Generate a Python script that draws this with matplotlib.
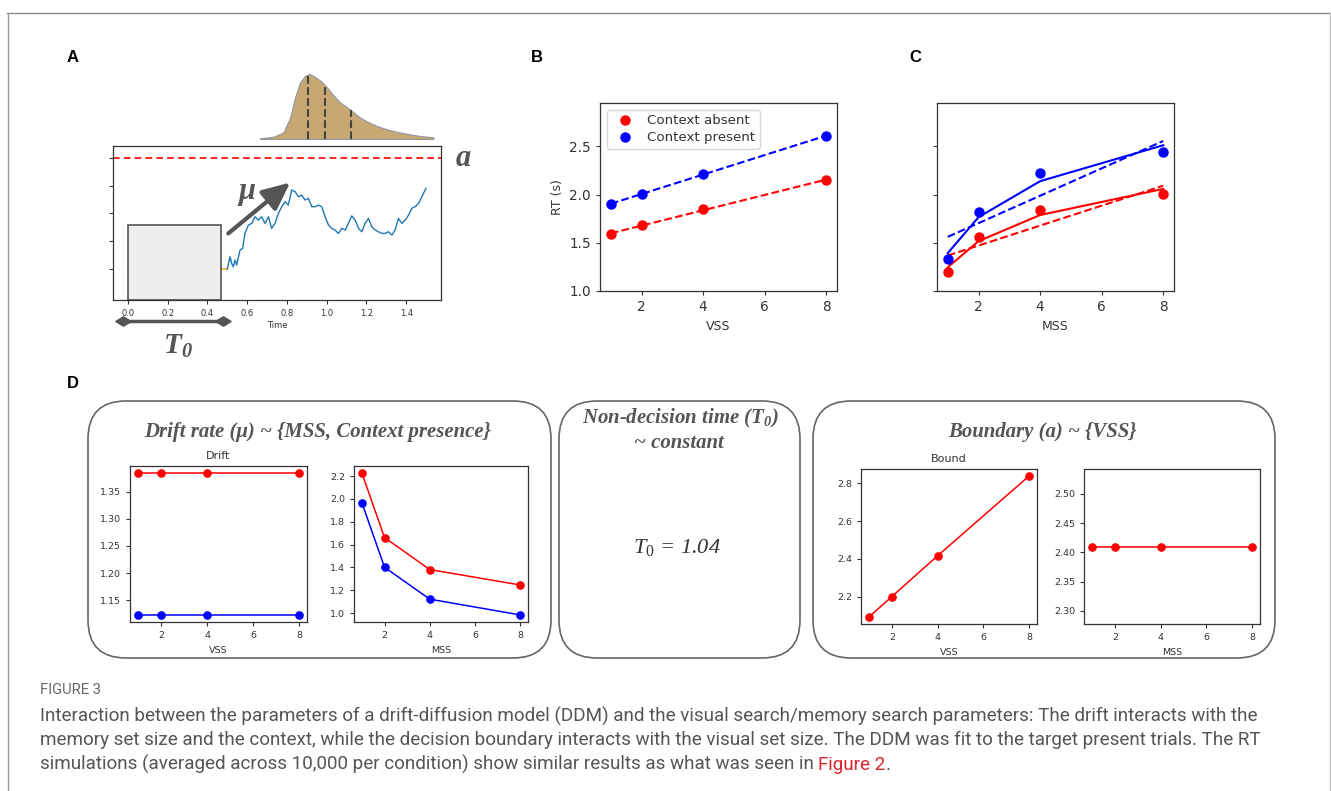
import numpy as np
import matplotlib
matplotlib.use("Agg")
import matplotlib.pyplot as plt
from matplotlib import font_manager
from matplotlib.patches import Rectangle, FancyBboxPatch, FancyArrowPatch
from matplotlib.path import Path
import matplotlib.transforms as mtransforms

plt.rcParams['mathtext.fontset'] = 'custom'
plt.rcParams['mathtext.rm'] = 'Liberation Serif'
plt.rcParams['mathtext.it'] = 'Liberation Serif:italic'
plt.rcParams['mathtext.bfit'] = 'Liberation Serif:italic:bold'
plt.rcParams['font.family'] = ['DejaVu Sans']

# ---------------- data ----------------
# Panel A: simulated diffusion trace (evidence units; start = 0, boundary a = 4)
start_t = [0.0, 0.5]
start_v = [0.0, 0.0]
walk_t = [0.50, 0.514, 0.522, 0.530, 0.539, 0.547, 0.564, 0.577,
          0.589, 0.606, 0.623, 0.639, 0.656, 0.673, 0.690, 0.707, 0.723, 0.740,
          0.757, 0.774, 0.791, 0.807, 0.824, 0.841, 0.858, 0.874, 0.891, 0.908,
          0.925, 0.942, 0.958, 0.975, 0.992, 1.009, 1.025, 1.042, 1.059, 1.076,
          1.093, 1.109, 1.126, 1.143, 1.160, 1.177, 1.193, 1.210, 1.227, 1.244,
          1.260, 1.277, 1.294, 1.311, 1.328, 1.344, 1.361, 1.378, 1.395, 1.412,
          1.428, 1.445, 1.462, 1.479, 1.499]
walk_v = [0.00, 0.44, 0.20, 0.08, 0.32, 0.14, 0.68, 0.74,
          1.28, 1.58, 1.64, 1.88, 1.76, 1.88, 1.64, 1.88, 1.46, 1.64,
          2.00, 2.24, 2.42, 2.30, 2.84, 2.78, 2.60, 2.66, 2.48, 2.54,
          2.24, 2.24, 2.30, 2.24, 1.88, 1.58, 1.46, 1.40, 1.28, 1.46,
          1.40, 1.64, 1.91, 1.76, 1.46, 1.34, 1.64, 1.82, 1.52, 1.40,
          1.34, 1.28, 1.28, 1.34, 1.22, 1.40, 1.82, 1.64, 1.76, 1.94,
          2.18, 2.24, 2.36, 2.60, 2.90]
boundary_a = 4.0
t0_box_end = 0.47
t0_box_top = 1.59
# RT distribution (relative density)
dist_t = [0.665, 0.732, 0.782, 0.816, 0.841, 0.866, 0.891, 0.913, 0.933, 0.967,
          1.000, 1.034, 1.068, 1.101, 1.135, 1.168, 1.202, 1.252, 1.302, 1.353,
          1.403, 1.470, 1.537]
dist_d = [0.011, 0.035, 0.10, 0.33, 0.64, 0.87, 0.97, 1.00, 0.97, 0.90,
          0.80, 0.67, 0.56, 0.49, 0.41, 0.33, 0.27, 0.20, 0.15, 0.11,
          0.08, 0.046, 0.026]
dist_quantiles = [0.908, 0.990, 1.123]

# Panel B: RT vs visual set size
vss = [1, 2, 4, 8]
rtB_absent = [1.59, 1.68, 1.85, 2.15]
rtB_present = [1.90, 2.01, 2.21, 2.61]
# Panel C: RT vs memory set size
mss = [1, 2, 4, 8]
rtC_absent = [1.20, 1.56, 1.84, 2.01]
rtC_present = [1.33, 1.82, 2.22, 2.44]
# Panel D: fitted parameters
drift_vss_absent = [1.384, 1.384, 1.384, 1.384]
drift_vss_present = [1.123, 1.123, 1.123, 1.123]
drift_mss_absent = [2.226, 1.662, 1.382, 1.247]
drift_mss_present = [1.967, 1.402, 1.123, 0.985]
bound_vss = [2.092, 2.200, 2.416, 2.839]
bound_mss = [2.41, 2.41, 2.41, 2.41]
t0_value = 1.04

caption_lines = [
    "Interaction between the parameters of a drift-diffusion model (DDM) and the visual search/memory search parameters: The drift interacts with the",
    "memory set size and the context, while the decision boundary interacts with the visual set size. The DDM was fit to the target present trials. The RT",
    "simulations (averaged across 10,000 per condition) show similar results as what was seen in ",
]

# ---------------- figure ----------------
W, H = 1331, 791
fig = plt.figure(figsize=(W / 100, H / 100), dpi=100)
renderer = fig.canvas.get_renderer()

def add_ax(l, t, r, b):
    return fig.add_axes([l / W, 1 - b / H, (r - l) / W, (b - t) / H])

def style(ax, fs):
    for s in ax.spines.values():
        s.set_color('#333333')
        s.set_linewidth(0.9)
    ax.tick_params(labelsize=fs, colors='#333333', length=3, width=0.8)

def fit(t, target):
    bb = t.get_window_extent(renderer)
    t.set_fontsize(t.get_fontsize() * target / bb.width)
    return t.get_fontsize()

bg = fig.add_axes([0, 0, 1, 1])
bg.set_xlim(0, W)
bg.set_ylim(H, 0)
bg.axis('off')

# outer frame
bg.plot([7, 1330], [13, 13], color='#8a8a8a', lw=1)
bg.plot([7.5, 7.5], [13, H], color='#9a9a9a', lw=1)
bg.plot([1329.5, 1329.5], [13, H], color='#c0c0c0', lw=1)

serif = 'Liberation Serif'
dgrey = '#555555'

# panel letters
for lab, x, y in [('A', 73, 58), ('B', 537, 58), ('C', 915, 58), ('D', 73, 383)]:
    bg.text(x, y, lab, fontsize=12, fontweight='bold', family='Liberation Sans',
            ha='center', va='center', color='black')

# ---------------- Panel A ----------------
axA = add_ax(113, 146, 441, 300)
style(axA, 6)
axA.plot(start_t, start_v, color='#f5a623', lw=1.2, zorder=1)
yb = -1.115
axA.add_patch(Rectangle((0, yb), t0_box_end, t0_box_top - yb, fc='#eeeeee',
                        ec='#555555', lw=1.2, zorder=2))
axA.plot(walk_t, walk_v, color='#1f77b4', lw=1.0, zorder=3)
axA.axhline(boundary_a, color='red', ls='--', lw=1.2, dashes=(4, 2.5))
axA.set_xlim(-0.075, 1.575)
axA.set_ylim(yb, 4.424)
axA.set_yticks([0, 1, 2, 3, 4])
axA.set_yticklabels([])
axA.set_xticks(np.arange(0, 1.41, 0.2))
axA.set_xticklabels(['%.1f' % v for v in np.arange(0, 1.41, 0.2)])
axA.set_xlabel('Time', fontsize=6, labelpad=2, color='#333333')
axA.add_patch(FancyArrowPatch((0.505, 1.28), (0.816, 3.11),
                              arrowstyle='-|>,head_length=1.2,head_width=0.55',
                              mutation_scale=14, lw=3, color='#555555',
                              shrinkA=0, shrinkB=0, zorder=4))
axA.text(0.60, 2.80, 'μ', family=serif, fontweight='bold', style='italic',
         fontsize=22, color=dgrey, ha='center', va='center')
trans = mtransforms.blended_transform_factory(axA.transData, axA.transAxes)
diamond = Path([(-1, 0), (0, 0.62), (1, 0), (0, -0.62), (-1, 0)],
               [Path.MOVETO, Path.LINETO, Path.LINETO, Path.LINETO, Path.CLOSEPOLY])
axA.plot([-0.025, 0.478], [-0.136, -0.136], transform=trans, clip_on=False,
         color='#555555', lw=2.5, marker=diamond, ms=11, mfc='#555555', mec='#555555')
bg.text(463, 158, 'a', family=serif, fontweight='bold', style='italic',
        fontsize=22, color=dgrey, ha='center', va='center')
bg.text(178, 346, r'$\mathbfit{T}_{\mathbfit{0}}$', fontsize=21, color=dgrey,
        ha='center', va='center')

axD0 = add_ax(113, 70, 441, 139)
axD0.set_xlim(-0.075, 1.575)
axD0.set_ylim(0, 1.06)
axD0.axis('off')
axD0.fill_between(dist_t, dist_d, color='#c8a872', ec='#9296a3', lw=0.8)
qh = np.interp(dist_quantiles, dist_t, dist_d)
axD0.vlines(dist_quantiles, 0, qh, colors='#444444', linestyles='--', lw=1.5)

# ---------------- Panel B ----------------
axB = add_ax(600, 103, 837, 291)
style(axB, 9.8)
axB.plot(vss, rtB_absent, 'o', color='red', ms=6.5, label='Context absent')
axB.plot(vss, rtB_present, 'o', color='blue', ms=6.5, label='Context present')
xs = np.array([1, 8])
for y, c in [(rtB_absent, 'red'), (rtB_present, 'blue')]:
    p = np.polyfit(vss, y, 1)
    axB.plot(xs, np.polyval(p, xs), '--', color=c, lw=1.5)
axB.set_xlim(0.65, 8.35)
axB.set_ylim(1.0, 2.95)
axB.set_yticks([1.0, 1.5, 2.0, 2.5])
axB.set_xticks([2, 4, 6, 8])
axB.set_ylabel('RT (s)', fontsize=9, color='#333333')
axB.set_xlabel('VSS', fontsize=9, color='#333333')
leg = axB.legend(loc='upper left', fontsize=9.6, handletextpad=0.7, borderpad=0.35,
                 labelspacing=0.3, borderaxespad=0.5)
for t in leg.get_texts():
    t.set_color('#333333')

# ---------------- Panel C ----------------
axC = add_ax(937, 103, 1174, 291)
style(axC, 9.8)
lm = np.log2(mss)
for y, c in [(rtC_absent, 'red'), (rtC_present, 'blue')]:
    axC.plot(mss, y, 'o', color=c, ms=6.5)
    pl = np.polyfit(lm, y, 1)
    axC.plot(mss, np.polyval(pl, lm), '-', color=c, lw=1.5)
    p = np.polyfit(mss, y, 1)
    axC.plot(xs, np.polyval(p, xs), '--', color=c, lw=1.5)
axC.set_xlim(0.65, 8.35)
axC.set_ylim(1.0, 2.95)
axC.set_yticks([1.0, 1.5, 2.0, 2.5])
axC.set_yticklabels([])
axC.set_xticks([2, 4, 6, 8])
axC.set_xlabel('MSS', fontsize=9, color='#333333')

# ---------------- Panel D ----------------
for (x0, w) in [(88, 463), (559, 241), (813, 462)]:
    bg.add_patch(FancyBboxPatch((x0, 401), w, 257,
                                boxstyle='round,pad=0,rounding_size=38',
                                fc='none', ec='#666666', lw=1.2))

tt1 = bg.text(318, 432, 'Drift rate (μ) ~ {MSS, Context presence}', family=serif,
              fontweight='bold', style='italic', fontsize=14, color=dgrey,
              ha='center', va='center')
tfs = fit(tt1, 347)
bg.text(1042, 432, 'Boundary (a) ~ {VSS}', family=serif, fontweight='bold',
        style='italic', fontsize=tfs, color=dgrey, ha='center', va='center')
bg.text(680, 418, r'Non-decision time ($\mathbfit{T}_{\mathbfit{0}}$)', family=serif,
        fontweight='bold', style='italic', fontsize=tfs, color=dgrey,
        ha='center', va='center')
bg.text(679, 443, '~ constant', family=serif, fontweight='bold', style='italic',
        fontsize=tfs, color=dgrey, ha='center', va='center')
bg.text(677, 548, r'$\mathit{T}_{\mathit{0}}$' + ' = %.2f' % t0_value, family=serif,
        style='italic', fontsize=tfs * 1.08, color='#333333', ha='center', va='center')

def dplot(ax, x, series, colors):
    style(ax, 6.8)
    for y, c in zip(series, colors):
        ax.plot(x, y, 'o-', color=c, ms=5.2, lw=1.1)
    ax.set_xticks([2, 4, 6, 8])

ax1 = add_ax(130, 466, 307, 622)
dplot(ax1, vss, [drift_vss_absent, drift_vss_present], ['red', 'blue'])
ax1.set_yticks([1.15, 1.20, 1.25, 1.30, 1.35])
ax1.set_title('Drift', fontsize=8, color='#333333', pad=5)
ax1.set_xlabel('VSS', fontsize=6.8, color='#333333')

ax2 = add_ax(354, 466, 528, 622)
dplot(ax2, mss, [drift_mss_absent, drift_mss_present], ['red', 'blue'])
ax2.set_yticks([1.0, 1.2, 1.4, 1.6, 1.8, 2.0, 2.2])
ax2.set_xlabel('MSS', fontsize=6.8, color='#333333')

ax3 = add_ax(861, 469, 1037, 624)
dplot(ax3, vss, [bound_vss], ['red'])
ax3.set_yticks([2.2, 2.4, 2.6, 2.8])
ax3.set_title('Bound', fontsize=8, color='#333333', pad=5)
ax3.set_xlabel('VSS', fontsize=6.8, color='#333333')

ax4 = add_ax(1084, 469, 1260, 624)
dplot(ax4, mss, [bound_mss], ['red'])
ax4.set_yticks([2.30, 2.35, 2.40, 2.45, 2.50])
ax4.set_yticklabels(['2.30', '2.35', '2.40', '2.45', '2.50'])
ax4.set_xlabel('MSS', fontsize=6.8, color='#333333')

# ---------------- caption ----------------
names = {f.name for f in font_manager.fontManager.ttflist}
cap_family = 'Liberation Sans Narrow' if 'Liberation Sans Narrow' in names else 'Roboto'
capc = '#555555'
f3 = bg.text(40, 690, 'FIGURE 3', family=cap_family, fontsize=9, color='#666666',
             ha='left', va='center')
fit(f3, 61)
l1 = bg.text(40, 716, caption_lines[0], family=cap_family, fontsize=12, color=capc,
             ha='left', va='center')
cfs = fit(l1, 1218)
bg.text(40, 740, caption_lines[1], family=cap_family, fontsize=cfs, color=capc,
        ha='left', va='center')
l3 = bg.text(40, 764, caption_lines[2], family=cap_family, fontsize=cfs, color=capc,
             ha='left', va='center')
r2 = bg.annotate('Figure 2', xy=(1, 0), xycoords=l3, family=cap_family, fontsize=cfs,
                 color='#d7262e', ha='left', va='bottom')
bg.annotate('.', xy=(1, 0), xycoords=r2, family=cap_family, fontsize=cfs,
            color=capc, ha='left', va='bottom')

fig.savefig('out.png', dpi=100)
